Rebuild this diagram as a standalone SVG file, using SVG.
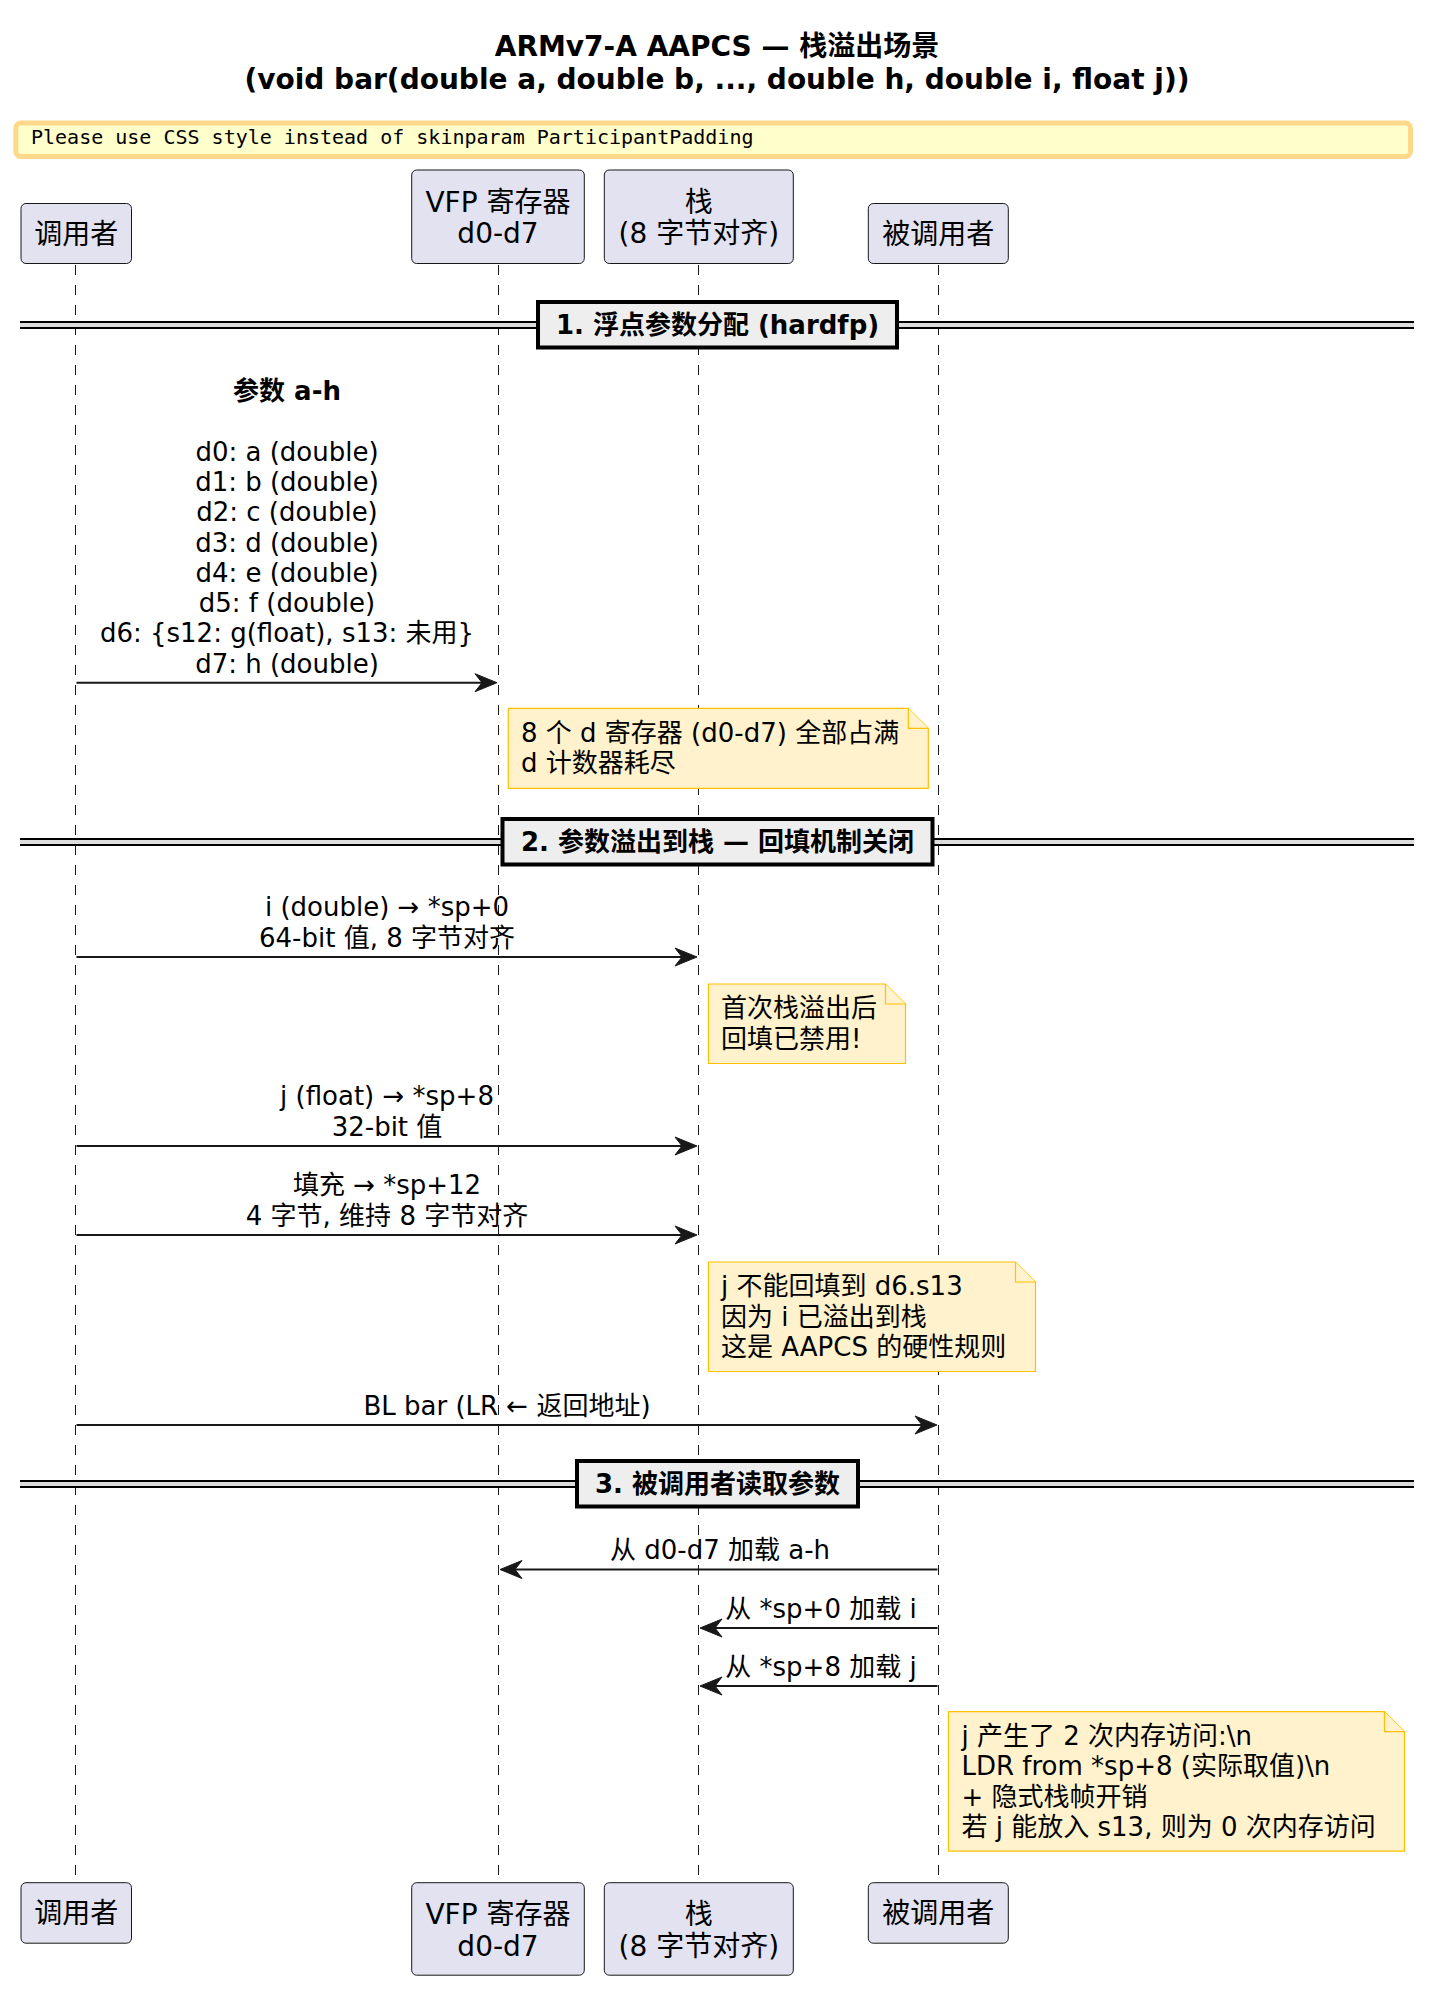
<svg xmlns="http://www.w3.org/2000/svg" width="1434" height="1997" viewBox="0 0 1434 1997">
<style>
  text { font-family: "DejaVu Sans", "Noto Sans CJK SC", sans-serif; fill: #000000; }
  .title { font-size: 28px; font-weight: bold; text-anchor: middle; }
  .warn { font-family: "DejaVu Sans Mono", "Liberation Mono", monospace; font-size: 20px; }
  .part { font-size: 28px; text-anchor: middle; }
  .msg { font-size: 26px; text-anchor: middle; }
  .bold { font-weight: bold; }
  .note { font-size: 26px; }
  .sec { font-size: 26px; font-weight: bold; text-anchor: middle; }
  .pbox { fill: #E2E2F0; stroke: #181818; stroke-width: 1; }
  .life { stroke: #181818; stroke-width: 1; stroke-dasharray: 10 10; fill: none; }
  .nbox { fill: #FFF2CC; stroke: #FFC000; stroke-width: 1.2; }
  .secbox { fill: #EEEEEE; stroke: #000000; stroke-width: 4; }
  .divfill { fill: #DDDDDD; stroke: none; }
  .divline { stroke: #000000; stroke-width: 2; }
  .arr { stroke: #181818; stroke-width: 2; fill: none; }
  .head { fill: #181818; stroke: #181818; stroke-width: 1; }
</style>

<g id="title">
  <text class="title" x="717" y="56">ARMv7-A AAPCS — 栈溢出场景</text>
  <text class="title" x="717" y="89">(void bar(double a, double b, ..., double h, double i, float j))</text>
</g>

<g id="warning">
  <rect x="15.8" y="123" width="1394.7" height="33.5" rx="5" fill="#FFFFCC" stroke="#FFD98A" stroke-width="5"/>
  <text class="warn" x="31" y="144">Please use CSS style instead of skinparam ParticipantPadding</text>
</g>

<g id="lifelines">
  <line class="life" x1="75.5" y1="265" x2="75.5" y2="1877"/>
  <line class="life" x1="498.5" y1="265" x2="498.5" y2="1877"/>
  <line class="life" x1="698.5" y1="265" x2="698.5" y2="1877"/>
  <line class="life" x1="938.5" y1="265" x2="938.5" y2="1877"/>
</g>

<g id="participants-top">
  <g id="p-caller-top">
    <rect class="pbox" x="21" y="203.5" width="110.5" height="60" rx="5"/>
    <text class="part" x="76.3" y="243.5">调用者</text>
  </g>
  <g id="p-vfp-top">
    <rect class="pbox" x="411.7" y="170" width="172.6" height="93.5" rx="5"/>
    <text class="part" x="498" y="211.5">VFP 寄存器</text>
    <text class="part" x="498" y="243">d0-d7</text>
  </g>
  <g id="p-stack-top">
    <rect class="pbox" x="604.3" y="170" width="189" height="93.5" rx="5"/>
    <text class="part" x="698.8" y="211.5">栈</text>
    <text class="part" x="698.8" y="243">(8 字节对齐)</text>
  </g>
  <g id="p-callee-top">
    <rect class="pbox" x="868.3" y="203.5" width="140" height="60" rx="5"/>
    <text class="part" x="938.3" y="243.5">被调用者</text>
  </g>
</g>

<g id="dividers">
  <g id="sec1">
    <rect class="divfill" x="20" y="322" width="1394" height="6"/>
    <line class="divline" x1="20" y1="322" x2="1414" y2="322"/>
    <line class="divline" x1="20" y1="328" x2="1414" y2="328"/>
    <rect class="secbox" x="538" y="302" width="359" height="45.5"/>
    <text class="sec" x="717.5" y="333.5">1. 浮点参数分配 (hardfp)</text>
  </g>
  <g id="sec2">
    <rect class="divfill" x="20" y="839" width="1394" height="6"/>
    <line class="divline" x1="20" y1="839" x2="1414" y2="839"/>
    <line class="divline" x1="20" y1="845" x2="1414" y2="845"/>
    <rect class="secbox" x="502.5" y="819" width="430" height="45.5"/>
    <text class="sec" x="717.5" y="850.5">2. 参数溢出到栈 — 回填机制关闭</text>
  </g>
  <g id="sec3">
    <rect class="divfill" x="20" y="1481" width="1394" height="6"/>
    <line class="divline" x1="20" y1="1481" x2="1414" y2="1481"/>
    <line class="divline" x1="20" y1="1487" x2="1414" y2="1487"/>
    <rect class="secbox" x="577" y="1461" width="281" height="45.5"/>
    <text class="sec" x="717.5" y="1492.5">3. 被调用者读取参数</text>
  </g>
</g>

<g id="connectors">
  <g id="m1">
    <line class="arr" x1="76.5" y1="682.7" x2="490" y2="682.7"/>
    <polygon class="head" points="497,682.7 475,673.7 482,682.7 475,691.7"/>
  </g>
  <g id="m2">
    <line class="arr" x1="76.5" y1="957" x2="690" y2="957"/>
    <polygon class="head" points="697,957 675,948 682,957 675,966"/>
  </g>
  <g id="m3">
    <line class="arr" x1="76.5" y1="1146" x2="690" y2="1146"/>
    <polygon class="head" points="697,1146 675,1137 682,1146 675,1155"/>
  </g>
  <g id="m4">
    <line class="arr" x1="76.5" y1="1235" x2="690" y2="1235"/>
    <polygon class="head" points="697,1235 675,1226 682,1235 675,1244"/>
  </g>
  <g id="m5">
    <line class="arr" x1="76.5" y1="1425" x2="930" y2="1425"/>
    <polygon class="head" points="937,1425 915,1416 922,1425 915,1434"/>
  </g>
  <g id="m6">
    <line class="arr" x1="937.5" y1="1569.5" x2="507" y2="1569.5"/>
    <polygon class="head" points="500,1569.5 522,1560.5 515,1569.5 522,1578.5"/>
  </g>
  <g id="m7">
    <line class="arr" x1="937.5" y1="1628" x2="707" y2="1628"/>
    <polygon class="head" points="700,1628 722,1619 715,1628 722,1637"/>
  </g>
  <g id="m8">
    <line class="arr" x1="937.5" y1="1686" x2="707" y2="1686"/>
    <polygon class="head" points="700,1686 722,1677 715,1686 722,1695"/>
  </g>
</g>

<g id="labels">
  <g id="m1-label">
    <text class="msg bold" x="287" y="400.2">参数 a-h</text>
    <text class="msg" x="287" y="460.7">d0: a (double)</text>
    <text class="msg" x="287" y="491">d1: b (double)</text>
    <text class="msg" x="287" y="521.2">d2: c (double)</text>
    <text class="msg" x="287" y="551.5">d3: d (double)</text>
    <text class="msg" x="287" y="581.8">d4: e (double)</text>
    <text class="msg" x="287" y="612">d5: f (double)</text>
    <text class="msg" x="287" y="642.3">d6: {s12: g(float), s13: 未用}</text>
    <text class="msg" x="287" y="672.5">d7: h (double)</text>
  </g>
  <g id="m2-label">
    <text class="msg" x="387" y="916.4">i (double) → *sp+0</text>
    <text class="msg" x="387" y="946.7">64-bit 值, 8 字节对齐</text>
  </g>
  <g id="m3-label">
    <text class="msg" x="387" y="1105.4">j (float) → *sp+8</text>
    <text class="msg" x="387" y="1135.7">32-bit 值</text>
  </g>
  <g id="m4-label">
    <text class="msg" x="387" y="1194.4">填充 → *sp+12</text>
    <text class="msg" x="387" y="1224.7">4 字节, 维持 8 字节对齐</text>
  </g>
  <text class="msg" x="507" y="1414.7">BL bar (LR ← 返回地址)</text>
  <text class="msg" x="720" y="1559.2">从 d0-d7 加载 a-h</text>
  <text class="msg" x="821" y="1617.7">从 *sp+0 加载 i</text>
  <text class="msg" x="821" y="1675.7">从 *sp+8 加载 j</text>
</g>

<g id="note1">
  <path class="nbox" d="M508.3,708.3 L508.3,788.3 L928.3,788.3 L928.3,728.3 L908.3,708.3 Z"/>
  <path class="nbox" d="M908.3,708.3 L908.3,728.3 L928.3,728.3"/>
  <text class="note" x="521" y="741.7">8 个 d 寄存器 (d0-d7) 全部占满</text>
  <text class="note" x="521" y="772">d 计数器耗尽</text>
</g>

<g id="note2">
  <path class="nbox" d="M708.5,984 L708.5,1063.5 L905.5,1063.5 L905.5,1004 L885.5,984 Z"/>
  <path class="nbox" d="M885.5,984 L885.5,1004 L905.5,1004"/>
  <text class="note" x="721" y="1017.4">首次栈溢出后</text>
  <text class="note" x="721" y="1047.7">回填已禁用!</text>
</g>

<g id="note3">
  <path class="nbox" d="M708.5,1262 L708.5,1371.5 L1035.5,1371.5 L1035.5,1282 L1015.5,1262 Z"/>
  <path class="nbox" d="M1015.5,1262 L1015.5,1282 L1035.5,1282"/>
  <text class="note" x="721" y="1295.4">j 不能回填到 d6.s13</text>
  <text class="note" x="721" y="1325.7">因为 i 已溢出到栈</text>
  <text class="note" x="721" y="1356">这是 AAPCS 的硬性规则</text>
</g>

<g id="note4">
  <path class="nbox" d="M948.5,1711.7 L948.5,1851.2 L1404.5,1851.2 L1404.5,1731.7 L1384.5,1711.7 Z"/>
  <path class="nbox" d="M1384.5,1711.7 L1384.5,1731.7 L1404.5,1731.7"/>
  <text class="note" x="961.5" y="1745.1">j 产生了 2 次内存访问:\n</text>
  <text class="note" x="961.5" y="1775.4">LDR from *sp+8 (实际取值)\n</text>
  <text class="note" x="961.5" y="1805.7">+ 隐式栈帧开销</text>
  <text class="note" x="961.5" y="1836">若 j 能放入 s13, 则为 0 次内存访问</text>
</g>

<g id="participants-bottom">
  <g id="p-caller-bottom">
    <rect class="pbox" x="21" y="1882.7" width="110.5" height="60.5" rx="5"/>
    <text class="part" x="76.3" y="1922.8">调用者</text>
  </g>
  <g id="p-vfp-bottom">
    <rect class="pbox" x="411.7" y="1882.7" width="172.6" height="92.5" rx="5"/>
    <text class="part" x="498" y="1924.2">VFP 寄存器</text>
    <text class="part" x="498" y="1955.7">d0-d7</text>
  </g>
  <g id="p-stack-bottom">
    <rect class="pbox" x="604.3" y="1882.7" width="189" height="92.5" rx="5"/>
    <text class="part" x="698.8" y="1924.2">栈</text>
    <text class="part" x="698.8" y="1955.7">(8 字节对齐)</text>
  </g>
  <g id="p-callee-bottom">
    <rect class="pbox" x="868.3" y="1882.7" width="140" height="60.5" rx="5"/>
    <text class="part" x="938.3" y="1922.8">被调用者</text>
  </g>
</g>
</svg>
